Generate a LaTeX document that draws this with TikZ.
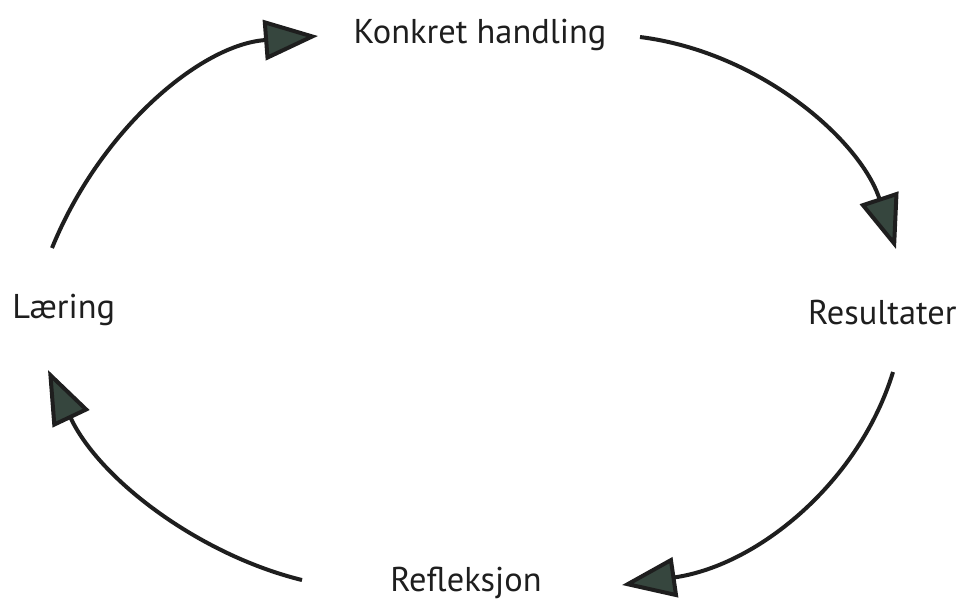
\documentclass[tikz,border=0pt]{standalone}
\usepackage{fontspec}
\setmainfont{PT Sans}
\usetikzlibrary{arrows.meta}
\definecolor{inkc}{HTML}{1E1E1E}
\definecolor{headc}{HTML}{36463E}
\begin{document}
\begin{tikzpicture}[x=0.5pt,y=-0.5pt,
  lbl/.style={inner sep=0pt,text=inkc,font=\fontsize{17.2}{21}\selectfont},
  cyc/.style={draw=inkc,line width=2pt,
    -{Triangle[length=27pt,width=20pt,fill=headc]}}]
\useasboundingbox (0,0) rectangle (961,607);
\node[lbl] (k) at (480,35) {Konkret handling};
\node[lbl,anchor=east] (r) at (957,313) {Resultater};
\node[lbl,anchor=west] (l) at (12,310) {Læring};
\node[lbl] (f) at (466,583) {Refleksjon};
\coordinate (a1s) at (52,248);
\coordinate (a1e) at (318,36);
\coordinate (a2s) at (640,37);
\coordinate (a2e) at (896,249);
\coordinate (a3s) at (893,372);
\coordinate (a3e) at (622,585);
\coordinate (a4s) at (302,580);
\coordinate (a4e) at (48,370);
\draw[cyc] (a1s) .. controls (100,130) and (200,45) .. (a1e);
\draw[cyc] (a2s) .. controls (760,52) and (860,140) .. (a2e);
\draw[cyc] (a3s) .. controls (860,480) and (760,565) .. (a3e);
\draw[cyc] (a4s) .. controls (200,555) and (100,480) .. (a4e);
\end{tikzpicture}
\end{document}
